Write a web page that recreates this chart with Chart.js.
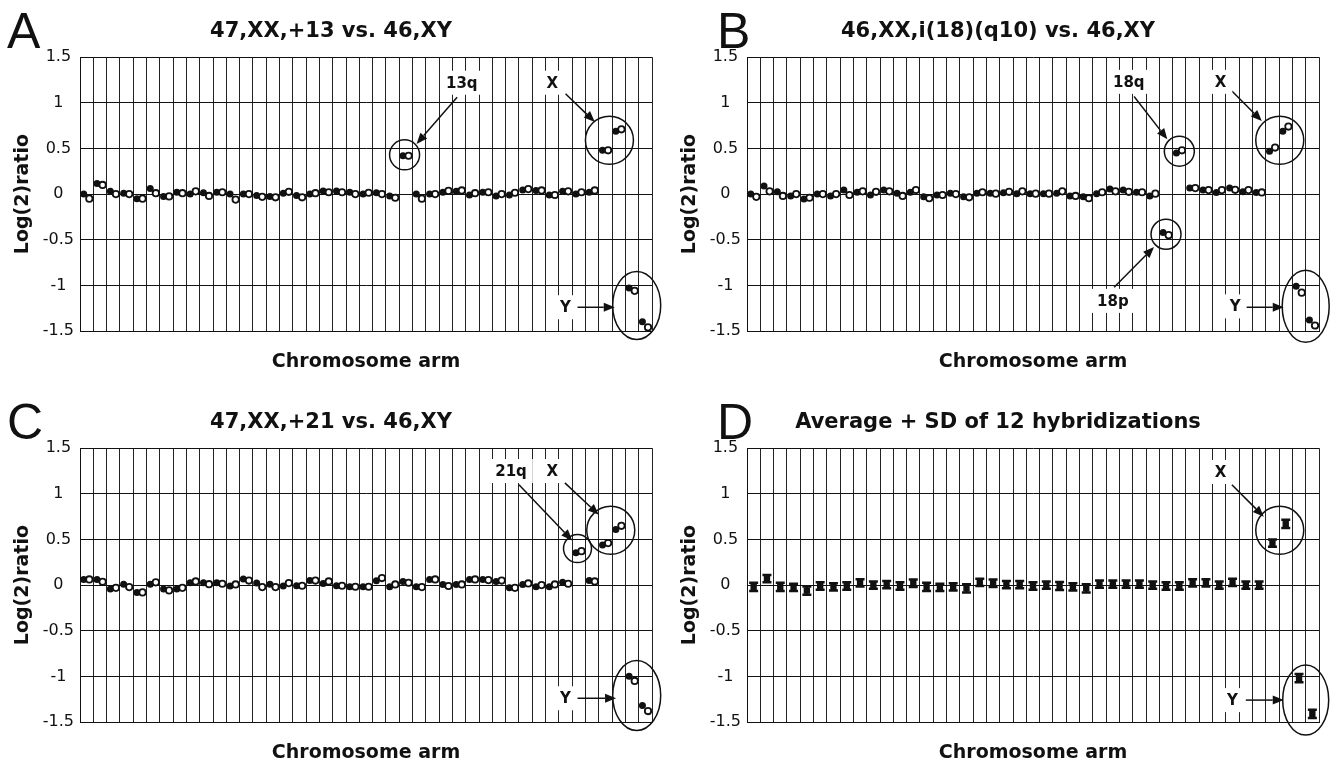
<!DOCTYPE html>
<html lang="en">
<head>
<meta charset="UTF-8" />
<title>Log2 ratios per chromosome arm</title>
<script src="https://cdn.jsdelivr.net/npm/chart.js"></script>
<style>
	body {
		margin: 0;
		background: #fff;
		width: 1337px;
		height: 764px;
		overflow: hidden;
		position: relative;
		font-family: "DejaVu Sans", "Liberation Sans", Arial, sans-serif;
	}
	canvas {
		position: absolute;
	}
	.letter {
		position: absolute;
		font-family: "Liberation Sans", Arial, sans-serif;
		font-size: 50px;
		line-height: 50px;
		color: #111;
	}
</style>
</head>
<body>
<div class="letter" style="left:7px;top:6px">A</div>
<div class="letter" style="left:717px;top:6px">B</div>
<div class="letter" style="left:7px;top:397px">C</div>
<div class="letter" style="left:717px;top:397px">D</div>
<canvas id="chartA" width="668" height="373" style="left:0;top:0"></canvas>
<canvas id="chartB" width="668" height="373" style="left:667px;top:0"></canvas>
<canvas id="chartC" width="668" height="373" style="left:0;top:391px"></canvas>
<canvas id="chartD" width="668" height="373" style="left:667px;top:391px"></canvas>
<script>
const arms = ['1p','1q','2p','2q','3p','3q','4p','4q','5p','5q','6p','6q','7p','7q',
	'8p','8q','9p','9q','10p','10q','11p','11q','12p','12q','13q','14q','15q','16p','16q',
	'17p','17q','18p','18q','19p','19q','20p','20q','21q','22q','Xp','Xq','Yp','Yq'];
const yTicks = [-1.5, -1, -0.5, 0, 0.5, 1, 1.5];

// A: 47,XX,+13
const aFilled = [0, 0.115, 0.03, 0.01, -0.05, 0.06, -0.025, 0.02, 0, 0.015, 0.02, 0, 0, -0.015,
	-0.025, 0.01, -0.015, 0, 0.035, 0.035, 0.02, 0, 0.015, -0.02, 0.42, 0, 0, 0.02, 0.03,
	-0.01, 0.02, -0.02, -0.01, 0.045, 0.04, -0.01, 0.03, 0, 0.02, 0.48, 0.69, -1.03, -1.4];
const aOpen = [-0.05, 0.1, 0, 0, -0.05, 0.01, -0.025, 0.01, 0.03, -0.02, 0.02, -0.06, 0, -0.03,
	-0.035, 0.025, -0.035, 0.01, 0.02, 0.02, 0, 0.015, 0, -0.04, 0.42, -0.05, 0, 0.035, 0.04,
	0.01, 0.02, 0, 0.015, 0.055, 0.04, -0.01, 0.03, 0.02, 0.04, 0.48, 0.71, -1.06, -1.46];

// B: 46,XX,i(18)(q10)
const bFilled = [0, 0.09, 0.025, -0.02, -0.055, 0, -0.02, 0.045, 0.02, -0.01, 0.045, 0.01, 0.02,
	-0.03, -0.01, 0.01, -0.03, 0.01, 0.01, 0.015, 0.005, 0.005, 0.005, 0.01, -0.02, -0.03, 0.005,
	0.055, 0.045, 0.02, -0.02, -0.42, 0.45, 0.066, 0.044, 0.018, 0.066, 0.026, 0.018, 0.47, 0.69,
	-1.01, -1.38];
const bOpen = [-0.03, 0.03, -0.02, 0, -0.04, 0, 0, -0.01, 0.03, 0.025, 0.03, -0.02, 0.045, -0.045,
	-0.01, 0, -0.035, 0.02, 0.005, 0.025, 0.03, 0.005, 0.005, 0.03, -0.02, -0.045, 0.02, 0.03,
	0.025, 0.02, 0.005, -0.45, 0.48, 0.066, 0.044, 0.044, 0.047, 0.044, 0.018, 0.51, 0.74, -1.08,
	-1.44];

// C: 47,XX,+21
const cFilled = [0.062, 0.062, -0.044, 0.01, -0.08, 0.01, -0.044, -0.044, 0.026, 0.026, 0.026,
	-0.01, 0.066, 0.022, 0.01, -0.01, -0.007, 0.05, 0.018, -0.007, -0.018, -0.018, 0.047, -0.018,
	0.04, -0.018, 0.062, 0.007, 0.007, 0.062, 0.062, 0.04, -0.03, 0.007, -0.018, -0.018, 0.03,
	0.354, 0.05, 0.44, 0.61, -1.0, -1.32];
const cOpen = [0.062, 0.036, -0.03, -0.022, -0.08, 0.03, -0.058, -0.03, 0.04, 0.01, 0.015, 0.007,
	0.05, -0.022, -0.022, 0.022, -0.007, 0.05, 0.04, -0.007, -0.018, -0.018, 0.077, 0.007, 0.026,
	-0.022, 0.062, -0.01, 0.007, 0.062, 0.055, 0.05, -0.03, 0.018, 0, 0.007, 0.015, 0.372, 0.04,
	0.46, 0.65, -1.05, -1.38];

// D: average and SD of 12 hybridizations
const dMean = [-0.02, 0.07, -0.02, -0.025, -0.06, -0.01, -0.02, -0.01, 0.025, 0, 0.005, -0.01,
	0.02, -0.02, -0.025, -0.02, -0.035, 0.03, 0.02, 0.005, 0.005, -0.01, 0, -0.01, -0.02, -0.035,
	0.01, 0.01, 0.01, 0.01, 0, -0.01, -0.01, 0.025, 0.025, 0, 0.03, 0, 0, 0.46, 0.67, -1.02, -1.41];
const dSD = [0.045, 0.04, 0.045, 0.04, 0.045, 0.04, 0.04, 0.04, 0.04, 0.04, 0.04, 0.04, 0.04,
	0.045, 0.04, 0.04, 0.045, 0.04, 0.04, 0.04, 0.04, 0.04, 0.04, 0.045, 0.04, 0.045, 0.04, 0.04,
	0.04, 0.04, 0.04, 0.04, 0.04, 0.04, 0.04, 0.04, 0.04, 0.04, 0.04, 0.04, 0.045, 0.045, 0.045];

const FONT = '"DejaVu Sans", "Liberation Sans", Arial, sans-serif';
const INK = '#111';
const FILLED_SHIFT = 0.28;
const OPEN_SHIFT = 0.7;

function seriesAt(values, shift) {
	return values.map((v, i) => ({ x: i + shift, y: v }));
}

function drawArrow(ctx, x1, y1, x2, y2) {
	const ang = Math.atan2(y2 - y1, x2 - x1);
	const head = 11, half = 4.5;
	const bx = x2 - head * Math.cos(ang), by = y2 - head * Math.sin(ang);
	ctx.beginPath();
	ctx.moveTo(x1, y1);
	ctx.lineTo(bx, by);
	ctx.stroke();
	ctx.beginPath();
	ctx.moveTo(x2, y2);
	ctx.lineTo(bx + half * Math.sin(ang), by - half * Math.cos(ang));
	ctx.lineTo(bx - half * Math.sin(ang), by + half * Math.cos(ang));
	ctx.closePath();
	ctx.fill();
}

// rings, arrows and boxed labels, placed in data units
const notesPlugin = {
	id: 'armNotes',
	afterDatasetsDraw(chart, args, opts) {
		const { ctx, scales: { x, y } } = chart;
		const px = v => x.getPixelForValue(v);
		const py = v => y.getPixelForValue(v);
		ctx.save();
		ctx.strokeStyle = INK;
		ctx.fillStyle = INK;
		ctx.lineWidth = 1.5;
		(opts.rings || []).forEach(r => {
			ctx.beginPath();
			ctx.ellipse(px(r.x), py(r.y), r.rx, r.ry || r.rx, 0, 0, Math.PI * 2);
			ctx.stroke();
		});
		(opts.arrows || []).forEach(a => drawArrow(ctx, px(a[0]), py(a[1]), px(a[2]), py(a[3])));
		ctx.font = 'bold 15px ' + FONT;
		ctx.textAlign = 'center';
		ctx.textBaseline = 'middle';
		(opts.labels || []).forEach(l => {
			const w = ctx.measureText(l.text).width + 12;
			ctx.fillStyle = '#fff';
			ctx.fillRect(px(l.x) - w / 2, py(l.y) - 12, w, 24);
			ctx.fillStyle = INK;
			ctx.fillText(l.text, px(l.x), py(l.y) + 1);
		});
		ctx.restore();
	}
};

const sdBars = {
	id: 'sdBars',
	beforeDatasetsDraw(chart) {
		const { ctx, scales: { x, y } } = chart;
		ctx.save();
		ctx.strokeStyle = INK;
		ctx.lineWidth = 2.5;
		dMean.forEach((m, i) => {
			const cx = x.getPixelForValue(i + 0.5);
			const top = y.getPixelForValue(m + dSD[i]);
			const bot = y.getPixelForValue(m - dSD[i]);
			ctx.beginPath();
			ctx.moveTo(cx, top);
			ctx.lineTo(cx, bot);
			ctx.moveTo(cx - 4.5, top);
			ctx.lineTo(cx + 4.5, top);
			ctx.moveTo(cx - 4.5, bot);
			ctx.lineTo(cx + 4.5, bot);
			ctx.stroke();
		});
		ctx.restore();
	}
};

function pairSets(filled, open) {
	return [
		{ data: seriesAt(open, OPEN_SHIFT), pointRadius: 3.2, pointBackgroundColor: '#fff',
			pointBorderColor: INK, pointBorderWidth: 1.8 },
		{ data: seriesAt(filled, FILLED_SHIFT), pointRadius: 3.5, pointBackgroundColor: INK,
			pointBorderColor: INK, pointBorderWidth: 0 }
	];
}

function makeChart(id, title, datasets, notes, extra) {
	return new Chart(document.getElementById(id), {
		type: 'scatter',
		data: { datasets },
		options: {
			responsive: false,
			animation: false,
			events: [],
			layout: { padding: { left: 10, right: 16, top: 0, bottom: 0 } },
			plugins: {
				legend: { display: false },
				tooltip: { enabled: false },
				title: {
					display: true,
					text: title,
					color: INK,
					font: { family: FONT, size: 21, weight: 'bold' },
					padding: { top: 19, bottom: 13 }
				},
				armNotes: notes
			},
			scales: {
				x: {
					type: 'linear',
					min: 0,
					max: arms.length,
					ticks: { display: false, stepSize: 1, autoSkip: false },
					grid: { color: '#222', lineWidth: 1, drawTicks: false },
					border: { color: INK },
					title: {
						display: true,
						text: 'Chromosome arm',
						color: INK,
						font: { family: FONT, size: 19, weight: 'bold' },
						padding: { top: 0, bottom: 0 }
					},
					afterFit: s => { s.height = 42; }
				},
				y: {
					min: -1.5,
					max: 1.5,
					afterBuildTicks: s => { s.ticks = yTicks.map(v => ({ value: v })); },
					ticks: {
						color: INK,
						font: { family: FONT, size: 16 },
						padding: 6,
						crossAlign: 'center',
						callback: v => String(v)
					},
					grid: { color: INK, lineWidth: 1, drawTicks: false },
					border: { color: INK },
					title: {
						display: true,
						text: 'Log(2)ratio',
						color: INK,
						font: { family: FONT, size: 19, weight: 'bold' },
						padding: { top: 2, bottom: 0 }
					},
					afterFit: s => { s.width = 70; }
				}
			}
		},
		plugins: [notesPlugin].concat(extra || [])
	});
}

makeChart('chartA', '47,XX,+13 vs. 46,XY', pairSets(aFilled, aOpen), {
	labels: [{ text: '13q', x: 28.7, y: 1.22 }, { text: 'X', x: 35.5, y: 1.22 }, { text: 'Y', x: 36.5, y: -1.24 }],
	arrows: [[28.35, 1.06, 25.3, 0.55], [36.5, 1.1, 38.7, 0.79], [37.4, -1.24, 40.2, -1.24]],
	rings: [{ x: 24.4, y: 0.43, rx: 15 }, { x: 39.8, y: 0.59, rx: 24 }, { x: 41.85, y: -1.22, rx: 24, ry: 34 }]
});

makeChart('chartB', '46,XX,i(18)(q10) vs. 46,XY', pairSets(bFilled, bOpen), {
	labels: [{ text: '18q', x: 28.7, y: 1.23 }, { text: 'X', x: 35.6, y: 1.23 },
		{ text: '18p', x: 27.5, y: -1.17 }, { text: 'Y', x: 36.7, y: -1.23 }],
	arrows: [[29.1, 1.07, 31.6, 0.6], [36.45, 1.13, 38.7, 0.8], [27.6, -1.02, 30.6, -0.58],
		[37.5, -1.24, 40.35, -1.24]],
	rings: [{ x: 32.5, y: 0.47, rx: 15 }, { x: 31.5, y: -0.44, rx: 15 }, { x: 40.05, y: 0.59, rx: 24 },
		{ x: 42.0, y: -1.23, rx: 23.5, ry: 36 }]
});

makeChart('chartC', '47,XX,+21 vs. 46,XY', pairSets(cFilled, cOpen), {
	labels: [{ text: '21q', x: 32.4, y: 1.25 }, { text: 'X', x: 35.5, y: 1.25 }, { text: 'Y', x: 36.5, y: -1.24 }],
	arrows: [[33.0, 1.1, 37.0, 0.49], [36.45, 1.12, 39.0, 0.77], [37.4, -1.24, 40.3, -1.24]],
	rings: [{ x: 37.4, y: 0.4, rx: 14 }, { x: 39.9, y: 0.6, rx: 24 }, { x: 41.85, y: -1.21, rx: 24, ry: 35 }]
});

makeChart('chartD', 'Average + SD of 12 hybridizations', [
	{ data: seriesAt(dMean, 0.5), pointStyle: 'rect', pointRadius: 4.5, pointBackgroundColor: INK,
		pointBorderColor: INK, pointBorderWidth: 0 }
], {
	labels: [{ text: 'X', x: 35.6, y: 1.24 }, { text: 'Y', x: 36.5, y: -1.26 }],
	arrows: [[36.45, 1.1, 38.85, 0.75], [37.5, -1.26, 40.35, -1.26]],
	rings: [{ x: 40.05, y: 0.6, rx: 24 }, { x: 42.0, y: -1.26, rx: 23, ry: 35 }]
}, [sdBars]);
</script>
</body>
</html>
